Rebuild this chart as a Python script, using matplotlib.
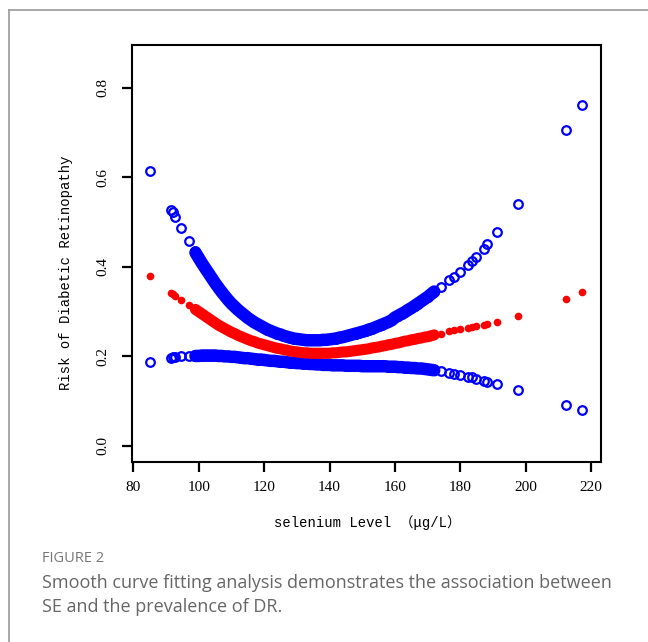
import matplotlib
matplotlib.use("Agg")
import matplotlib.pyplot as plt
from matplotlib.lines import Line2D

# selenium level (x) shared by the three series
x_left = [85.2, 91.5, 92.0, 92.8, 94.7, 96.9, 98.8]
x_mid = list(range(99, 173))
x_right = [174.0, 176.6, 177.9, 179.9, 182.4, 183.7, 184.9, 187.2, 188.2, 191.2, 197.5, 212.2, 217.3]
selenium = x_left + x_mid + x_right

# upper 95% CI
upper_left = [0.615, 0.527, 0.522, 0.511, 0.487, 0.457, 0.435]
upper_mid = [0.432, 0.420, 0.408, 0.397, 0.386, 0.375, 0.364, 0.354, 0.344, 0.335,
             0.326, 0.318, 0.311, 0.304, 0.298, 0.292, 0.286, 0.281, 0.276, 0.272,
             0.268, 0.264, 0.260, 0.257, 0.254, 0.251, 0.249, 0.246, 0.244, 0.242,
             0.240, 0.239, 0.238, 0.237, 0.236, 0.236, 0.236, 0.236, 0.236, 0.237,
             0.237, 0.238, 0.239, 0.240, 0.242, 0.243, 0.245, 0.247, 0.249, 0.251,
             0.253, 0.255, 0.257, 0.260, 0.262, 0.265, 0.268, 0.271, 0.274, 0.277,
             0.281, 0.287, 0.291, 0.295, 0.299, 0.304, 0.308, 0.313, 0.318, 0.323,
             0.328, 0.333, 0.339, 0.345]
upper_right = [0.354, 0.370, 0.377, 0.389, 0.405, 0.413, 0.422, 0.439, 0.451, 0.478, 0.540, 0.705, 0.761]
upper = upper_left + upper_mid + upper_right

# fitted risk
fit_left = [0.379, 0.342, 0.339, 0.335, 0.327, 0.315, 0.306]
fit_mid = [0.305, 0.300, 0.295, 0.290, 0.285, 0.280, 0.275, 0.270, 0.266, 0.262,
           0.258, 0.254, 0.251, 0.247, 0.244, 0.241, 0.238, 0.235, 0.233, 0.230,
           0.228, 0.226, 0.224, 0.222, 0.220, 0.218, 0.217, 0.215, 0.214, 0.212,
           0.211, 0.210, 0.209, 0.208, 0.208, 0.207, 0.207, 0.207, 0.207, 0.207,
           0.207, 0.207, 0.208, 0.208, 0.209, 0.210, 0.210, 0.211, 0.212, 0.213,
           0.214, 0.215, 0.216, 0.217, 0.219, 0.220, 0.221, 0.223, 0.224, 0.226,
           0.227, 0.229, 0.230, 0.232, 0.234, 0.235, 0.237, 0.238, 0.240, 0.241,
           0.243, 0.244, 0.246, 0.248]
fit_right = [0.251, 0.256, 0.258, 0.262, 0.264, 0.266, 0.267, 0.271, 0.273, 0.277, 0.290, 0.329, 0.343]
fit = fit_left + fit_mid + fit_right

# lower 95% CI
lower_left = [0.188, 0.197, 0.198, 0.198, 0.200, 0.201, 0.201]
lower_mid = [0.201, 0.201, 0.202, 0.202, 0.202, 0.202, 0.202, 0.201, 0.201, 0.200,
             0.200, 0.199, 0.199, 0.198, 0.197, 0.196, 0.196, 0.195, 0.194, 0.193,
             0.193, 0.192, 0.191, 0.190, 0.190, 0.189, 0.188, 0.188, 0.187, 0.186,
             0.186, 0.185, 0.185, 0.184, 0.184, 0.183, 0.183, 0.182, 0.182, 0.181,
             0.181, 0.181, 0.180, 0.180, 0.180, 0.180, 0.179, 0.179, 0.179, 0.179,
             0.179, 0.178, 0.178, 0.178, 0.178, 0.178, 0.178, 0.178, 0.178, 0.177,
             0.177, 0.177, 0.176, 0.176, 0.175, 0.175, 0.174, 0.174, 0.173, 0.173,
             0.172, 0.171, 0.170, 0.169]
lower_right = [0.167, 0.162, 0.161, 0.159, 0.155, 0.153, 0.150, 0.146, 0.143, 0.138, 0.125, 0.092, 0.080]
lower = lower_left + lower_mid + lower_right

xticks = [80, 100, 120, 140, 160, 180, 200, 220]
yticks = [0.0, 0.2, 0.4, 0.6, 0.8]

blue = "#0000ff"
red = "#ff0000"

fig = plt.figure(figsize=(6.48, 6.42), dpi=100)
ax = fig.add_axes([0.2037, 0.2804, 0.7238, 0.6495])

# the dense middle part of each series merges into a solid band
ax.plot(x_mid, upper_mid, "-", lw=9, color=blue, solid_capstyle="round")
ax.plot(x_mid, lower_mid, "-", lw=9, color=blue, solid_capstyle="round")
ax.plot(selenium, upper, "o", ms=6.2, mew=1.6, mfc="none", mec=blue)
ax.plot(selenium, lower, "o", ms=6.2, mew=1.6, mfc="none", mec=blue)
ax.plot(x_mid, fit_mid, "-", lw=8, color=red, solid_capstyle="round")
ax.plot(selenium, fit, "o", ms=5.5, mew=0, color=red)

ax.set_xlim(79.6, 223.0)
ax.set_ylim(-0.036, 0.896)
ax.set_xticks(xticks)
ax.set_yticks(yticks)
ax.set_xticklabels([str(v) for v in xticks], family="Liberation Serif", fontsize=11)
ax.set_yticklabels(["%.1f" % v for v in yticks], family="Liberation Serif", fontsize=11,
                   rotation=90, va="center")
ax.tick_params(direction="out", length=7, width=1.6, pad=7)
ax.tick_params(axis="y", pad=9)
for s in ax.spines.values():
    s.set_linewidth(1.5)

fig.text(0.5664, 1 - 523 / 642, "selenium Level （μg/L）", ha="center", va="center",
         family=["Liberation Mono", "Noto Sans CJK SC"], fontsize=10)
fig.text(66 / 648, 1 - 273 / 642, "Risk of Diabetic Retinopathy", ha="center", va="center",
         rotation=90, family="Liberation Mono", fontsize=10)

# figure frame (open at right and bottom)
fig.add_artist(Line2D([9 / 648, 9 / 648], [0, 1 - 10 / 642], color="#9a9a9a", lw=1.2))
fig.add_artist(Line2D([9 / 648, 1], [1 - 10 / 642, 1 - 10 / 642], color="#9a9a9a", lw=1.2))

fig.text(42 / 648, 1 - 559 / 642, "FIGURE 2", ha="left", va="center",
         family="Open Sans", fontsize=10.5, color="#777777")
fig.text(42 / 648, 1 - 583 / 642, "Smooth curve fitting analysis demonstrates the association between",
         ha="left", va="center", family="Open Sans", fontsize=13, color="#666666")
fig.text(42 / 648, 1 - 607 / 642, "SE and the prevalence of DR.",
         ha="left", va="center", family="Open Sans", fontsize=13, color="#666666")

fig.savefig("out.png", dpi=100)
